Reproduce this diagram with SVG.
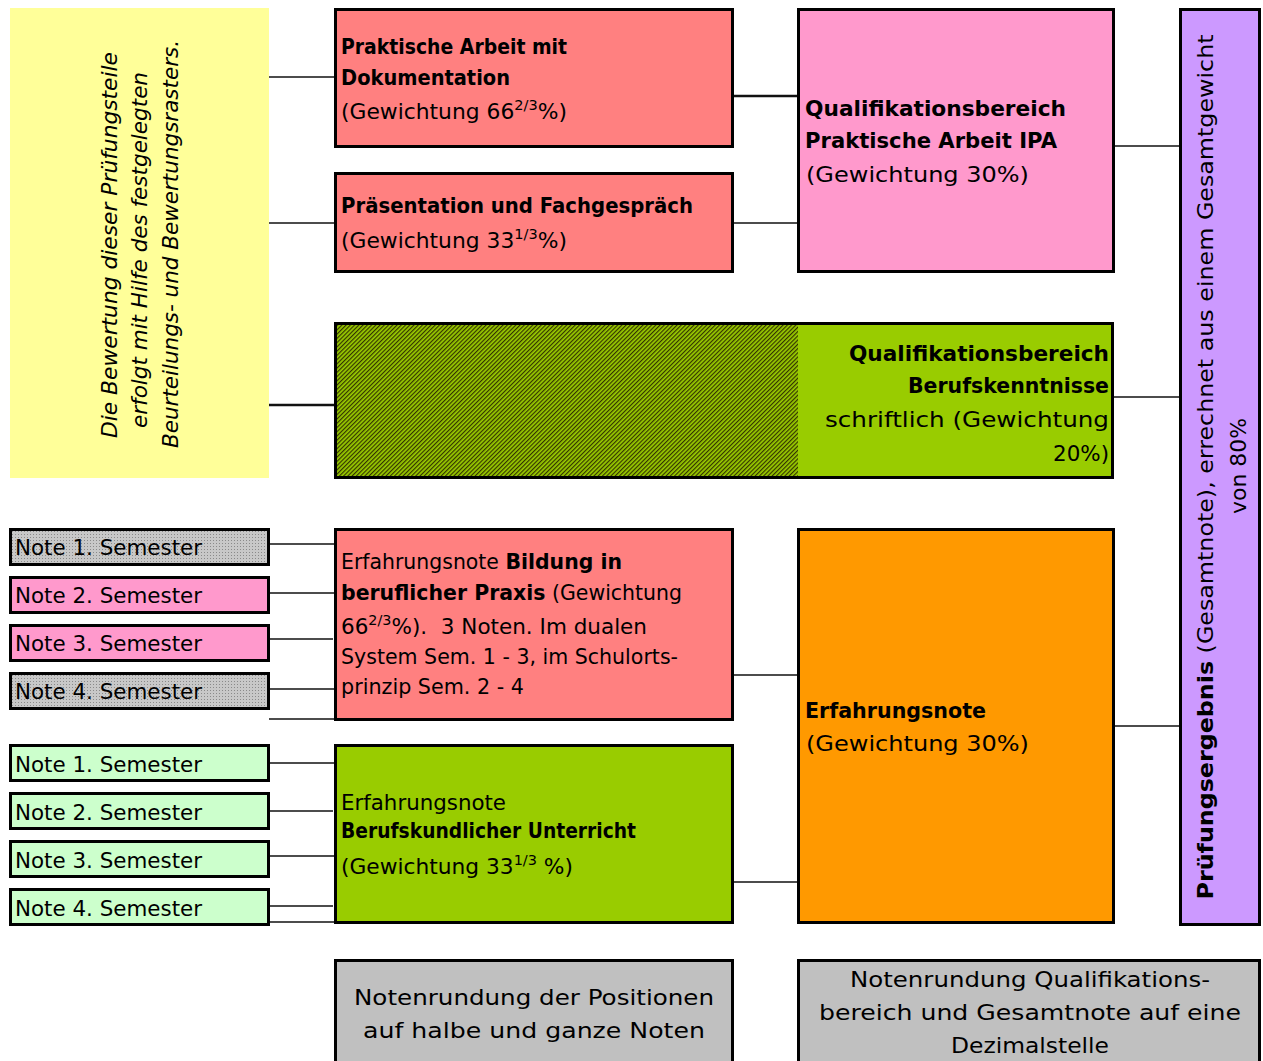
<svg xmlns="http://www.w3.org/2000/svg" width="1263" height="1061" viewBox="0 0 1263 1061">
<style>
.box{stroke:#000;stroke-width:3}
.t{font-family:"DejaVu Sans","Liberation Sans",sans-serif;font-size:21px;fill:#000}
.b{font-weight:bold}
.it{font-style:italic}
.con line{stroke:#111;stroke-width:1.5}
</style>
<defs>
<pattern id="hatch" width="3" height="3" patternUnits="userSpaceOnUse" patternTransform="rotate(-45)">
<rect width="3" height="3" fill="#99CC00"/>
<rect width="3" height="1.2" fill="#333300"/>
</pattern>
<pattern id="dots" width="3" height="3" patternUnits="userSpaceOnUse">
<rect width="3" height="3" fill="#C8C8C8"/>
<rect width="1" height="1" fill="#8a8a8a"/>
</pattern>
</defs>

<g id="connectors" class="con">
<line x1="269" y1="77" x2="335" y2="77"/>
<line x1="269" y1="223" x2="335" y2="223"/>
<line x1="269" y1="405" x2="335" y2="405" style="stroke-width:2.5"/>
<line x1="733" y1="96" x2="798" y2="96" style="stroke-width:2.5"/>
<line x1="733" y1="223" x2="798" y2="223"/>
<line x1="1114" y1="146" x2="1179" y2="146"/>
<line x1="1113" y1="397" x2="1179" y2="397"/>
<line x1="1114" y1="726" x2="1179" y2="726"/>
<line x1="733" y1="675" x2="798" y2="675"/>
<line x1="733" y1="882" x2="798" y2="882"/>
<line x1="269" y1="544" x2="335" y2="544"/>
<line x1="269" y1="593" x2="335" y2="593"/>
<line x1="269" y1="639" x2="333" y2="639"/>
<line x1="269" y1="689" x2="335" y2="689"/>
<line x1="269" y1="719" x2="335" y2="719"/>
<line x1="269" y1="763" x2="335" y2="763"/>
<line x1="269" y1="811" x2="333" y2="811"/>
<line x1="269" y1="856" x2="335" y2="856"/>
<line x1="269" y1="906" x2="333" y2="906"/>
<line x1="269" y1="922" x2="335" y2="922"/>
</g>

<g id="yellow">
<rect x="10" y="8" width="259" height="470" fill="#FFFF99"/>
<text class="t it" text-anchor="middle" transform="translate(117,245) rotate(-90)" textLength="386" lengthAdjust="spacingAndGlyphs">Die Bewertung dieser Prüfungsteile</text>
<text class="t it" text-anchor="middle" transform="translate(147,250) rotate(-90)" textLength="356" lengthAdjust="spacingAndGlyphs">erfolgt mit Hilfe des festgelegten</text>
<text class="t it" text-anchor="middle" transform="translate(178,244) rotate(-90)" textLength="408" lengthAdjust="spacingAndGlyphs">Beurteilungs- und Bewertungsrasters.</text>
</g>

<g id="praktische">
<rect class="box" x="335.5" y="9.5" width="397" height="137" fill="#FF8080"/>
<text class="t b" x="341" y="54" textLength="226" lengthAdjust="spacingAndGlyphs">Praktische Arbeit mit</text>
<text class="t b" x="341" y="85" textLength="169" lengthAdjust="spacingAndGlyphs">Dokumentation</text>
<text class="t" x="341" y="119" textLength="226" lengthAdjust="spacingAndGlyphs">(Gewichtung 66<tspan font-size="14" dy="-9">2/3</tspan><tspan dy="9">%)</tspan></text>
</g>

<g id="praesentation">
<rect class="box" x="335.5" y="173.5" width="397" height="98" fill="#FF8080"/>
<text class="t b" x="341" y="213" textLength="352" lengthAdjust="spacingAndGlyphs">Präsentation und Fachgespräch</text>
<text class="t" x="341" y="248" textLength="226" lengthAdjust="spacingAndGlyphs">(Gewichtung 33<tspan font-size="14" dy="-9">1/3</tspan><tspan dy="9">%)</tspan></text>
</g>

<g id="qv-ipa">
<rect class="box" x="798.5" y="9.5" width="315" height="262" fill="#FF99CC"/>
<text class="t b" x="805" y="116" textLength="261" lengthAdjust="spacingAndGlyphs">Qualifikationsbereich</text>
<text class="t b" x="805" y="148" textLength="252" lengthAdjust="spacingAndGlyphs">Praktische Arbeit IPA</text>
<text class="t" x="806" y="182" textLength="223" lengthAdjust="spacingAndGlyphs">(Gewichtung 30%)</text>
</g>

<g id="qv-bk">
<rect x="335.5" y="323.5" width="777" height="154" fill="#99CC00"/>
<rect x="337" y="325" width="461" height="151" fill="url(#hatch)"/>
<rect class="box" x="335.5" y="323.5" width="777" height="154" fill="none"/>
<text class="t b" x="1109" y="361" text-anchor="end" textLength="260" lengthAdjust="spacingAndGlyphs">Qualifikationsbereich</text>
<text class="t b" x="1109" y="393" text-anchor="end" textLength="201" lengthAdjust="spacingAndGlyphs">Berufskenntnisse</text>
<text class="t" x="1109" y="427" text-anchor="end" textLength="284" lengthAdjust="spacingAndGlyphs">schriftlich (Gewichtung</text>
<text class="t" x="1109" y="461" text-anchor="end" textLength="56" lengthAdjust="spacingAndGlyphs">20%)</text>
</g>

<g id="pruefungsergebnis">
<rect class="box" x="1180.5" y="9.5" width="79" height="915" fill="#CC99FF"/>
<text class="t" text-anchor="middle" transform="translate(1213,467) rotate(-90)" textLength="865" lengthAdjust="spacingAndGlyphs"><tspan class="b">Prüfungsergebnis</tspan> (Gesamtnote), errechnet aus einem Gesamtgewicht</text>
<text class="t" text-anchor="middle" transform="translate(1246,466) rotate(-90)" textLength="96" lengthAdjust="spacingAndGlyphs">von 80%</text>
</g>

<g id="note-l1"><rect class="box" x="10.5" y="529.5" width="258" height="35" fill="url(#dots)"/><text class="t" x="15" y="555" textLength="187" lengthAdjust="spacingAndGlyphs">Note 1. Semester</text></g>
<g id="note-l2"><rect class="box" x="10.5" y="577.5" width="258" height="35" fill="#FF99CC"/><text class="t" x="15" y="603" textLength="187" lengthAdjust="spacingAndGlyphs">Note 2. Semester</text></g>
<g id="note-l3"><rect class="box" x="10.5" y="625.5" width="258" height="35" fill="#FF99CC"/><text class="t" x="15" y="651" textLength="187" lengthAdjust="spacingAndGlyphs">Note 3. Semester</text></g>
<g id="note-l4"><rect class="box" x="10.5" y="673.5" width="258" height="35" fill="url(#dots)"/><text class="t" x="15" y="699" textLength="187" lengthAdjust="spacingAndGlyphs">Note 4. Semester</text></g>

<g id="note-g1"><rect class="box" x="10.5" y="745.5" width="258" height="35" fill="#CCFFCC"/><text class="t" x="15" y="772" textLength="187" lengthAdjust="spacingAndGlyphs">Note 1. Semester</text></g>
<g id="note-g2"><rect class="box" x="10.5" y="793.5" width="258" height="35" fill="#CCFFCC"/><text class="t" x="15" y="820" textLength="187" lengthAdjust="spacingAndGlyphs">Note 2. Semester</text></g>
<g id="note-g3"><rect class="box" x="10.5" y="841.5" width="258" height="35" fill="#CCFFCC"/><text class="t" x="15" y="868" textLength="187" lengthAdjust="spacingAndGlyphs">Note 3. Semester</text></g>
<g id="note-g4"><rect class="box" x="10.5" y="889.5" width="258" height="35" fill="#CCFFCC"/><text class="t" x="15" y="916" textLength="187" lengthAdjust="spacingAndGlyphs">Note 4. Semester</text></g>

<g id="bildung">
<rect class="box" x="335.5" y="529.5" width="397" height="190" fill="#FF8080"/>
<text class="t" x="341" y="569" textLength="281" lengthAdjust="spacingAndGlyphs">Erfahrungsnote <tspan class="b">Bildung in</tspan></text>
<text class="t" x="341" y="600" textLength="341" lengthAdjust="spacingAndGlyphs"><tspan class="b">beruflicher Praxis</tspan> (Gewichtung</text>
<text class="t" x="341" y="634" xml:space="preserve" textLength="306" lengthAdjust="spacingAndGlyphs">66<tspan font-size="14" dy="-9">2/3</tspan><tspan dy="9">%).  3 Noten. Im dualen</tspan></text>
<text class="t" x="341" y="664" textLength="337" lengthAdjust="spacingAndGlyphs">System Sem. 1 - 3, im Schulorts-</text>
<text class="t" x="341" y="694" textLength="183" lengthAdjust="spacingAndGlyphs">prinzip Sem. 2 - 4</text>
</g>

<g id="berufskundlich">
<rect class="box" x="335.5" y="745.5" width="397" height="177" fill="#99CC00"/>
<text class="t" x="341" y="810" textLength="165" lengthAdjust="spacingAndGlyphs">Erfahrungsnote</text>
<text class="t b" x="341" y="838" textLength="295" lengthAdjust="spacingAndGlyphs">Berufskundlicher Unterricht</text>
<text class="t" x="341" y="874" textLength="232" lengthAdjust="spacingAndGlyphs">(Gewichtung 33<tspan font-size="14" dy="-9">1/3</tspan><tspan dy="9"> %)</tspan></text>
</g>

<g id="erfahrungsnote">
<rect class="box" x="798.5" y="529.5" width="315" height="393" fill="#FF9900"/>
<text class="t b" x="805" y="718" textLength="181" lengthAdjust="spacingAndGlyphs">Erfahrungsnote</text>
<text class="t" x="806" y="751" textLength="223" lengthAdjust="spacingAndGlyphs">(Gewichtung 30%)</text>
</g>

<g id="rundung-positionen">
<rect class="box" x="335.5" y="960.5" width="397" height="103" fill="#C0C0C0"/>
<text class="t" x="534" y="1005" text-anchor="middle" textLength="360" lengthAdjust="spacingAndGlyphs">Notenrundung der Positionen</text>
<text class="t" x="534" y="1038" text-anchor="middle" textLength="342" lengthAdjust="spacingAndGlyphs">auf halbe und ganze Noten</text>
</g>

<g id="rundung-qv">
<rect class="box" x="798.5" y="960.5" width="461" height="103" fill="#C0C0C0"/>
<text class="t" x="1030" y="987" text-anchor="middle" textLength="360" lengthAdjust="spacingAndGlyphs">Notenrundung Qualifikations-</text>
<text class="t" x="1030" y="1020" text-anchor="middle" textLength="422" lengthAdjust="spacingAndGlyphs">bereich und Gesamtnote auf eine</text>
<text class="t" x="1030" y="1053" text-anchor="middle" textLength="158" lengthAdjust="spacingAndGlyphs">Dezimalstelle</text>
</g>
</svg>
